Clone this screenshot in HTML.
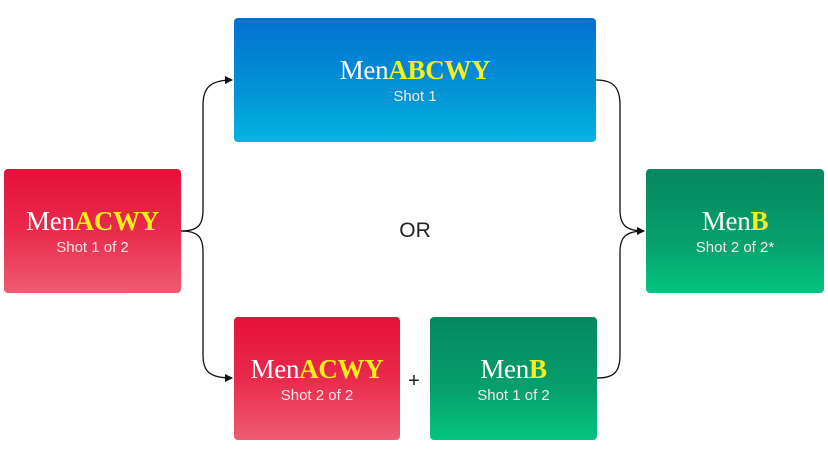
<!DOCTYPE html>
<html><head><style>
body{margin:0;width:828px;height:459px;background:#fff;position:relative;overflow:hidden;font-family:"Liberation Sans",sans-serif}
.b{position:absolute;border-radius:4px;color:#fff;text-align:center;display:flex;flex-direction:column;justify-content:center;align-items:center}
.t{font-family:"Liberation Serif",serif;font-size:27px;line-height:30px;letter-spacing:-0.3px;margin-top:2px}
.t b{color:#f7ee1c}
.s{font-size:15px;line-height:20px;color:#fbe6ea;margin-top:2px}
.red{background:linear-gradient(#e5103a 0%,#e92a4c 50%,#ef5b72 100%)}
.blue{background:linear-gradient(#0370d0,#0397d6 65%,#01b4e0)}
.green{background:linear-gradient(#05875f,#07a06d 60%,#04c57f)}
</style></head><body>
<svg width="828" height="459" style="position:absolute;left:0;top:0">
<defs><marker id="a" markerWidth="8" markerHeight="8" refX="7" refY="4" orient="auto" markerUnits="userSpaceOnUse"><path d="M0,0 L8,4 L0,8z" fill="#111"/></marker></defs>
<g fill="none" stroke="#111" stroke-width="1.3">
<path d="M181,231 C198,231 203,225 203,210 L203,105 C203,88 210,80 232,80" marker-end="url(#a)"/>
<path d="M181,231 C198,231 203,237 203,252 L203,355 C203,372 210,378 232,378" marker-end="url(#a)"/>
<path d="M596,80 C614,80 620,88 620,105 L620,210 C620,225 626,231 644,231" marker-end="url(#a)"/>
<path d="M597,378 C614,378 620,372 620,355 L620,252 C620,237 626,231 644,231"/>
</g></svg>
<div class="b red" style="left:4px;top:169px;width:177px;height:124px"><div class="t">Men<b>ACWY</b></div><div class="s">Shot 1 of 2</div></div>
<div class="b blue" style="left:234px;top:18px;width:362px;height:124px"><div class="t">Men<b>ABCWY</b></div><div class="s">Shot 1</div></div>
<div class="b green" style="left:646px;top:169px;width:178px;height:124px"><div class="t">Men<b>B</b></div><div class="s">Shot 2 of 2*</div></div>
<div class="b red" style="left:234px;top:317px;width:166px;height:123px"><div class="t">Men<b>ACWY</b></div><div class="s">Shot 2 of 2</div></div>
<div class="b green" style="left:430px;top:317px;width:167px;height:123px"><div class="t">Men<b>B</b></div><div class="s">Shot 1 of 2</div></div>
<div style="position:absolute;left:380px;top:219px;width:70px;text-align:center;font-size:21px;color:#222">OR</div>
<div style="position:absolute;left:404px;top:370px;width:20px;text-align:center;font-size:20px;color:#222">+</div>
</body></html>
